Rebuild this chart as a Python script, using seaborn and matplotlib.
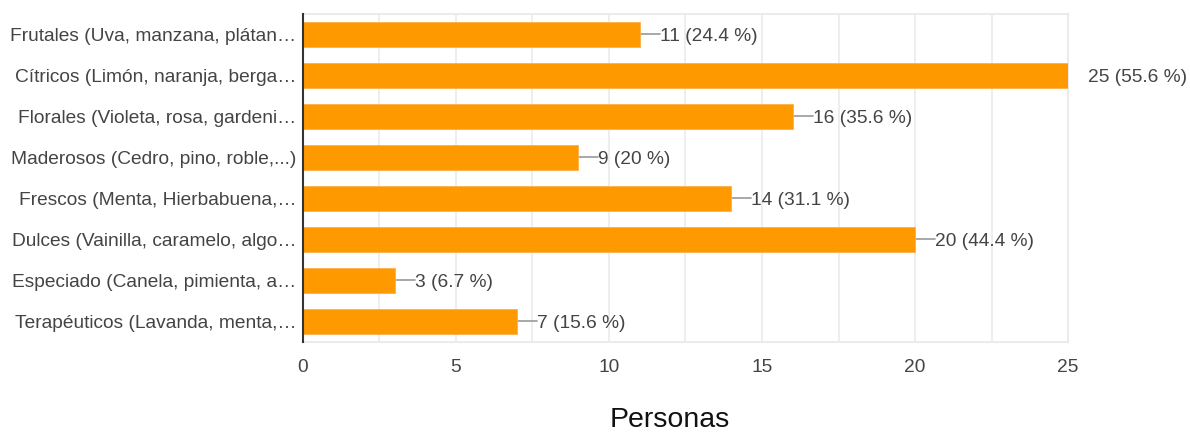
import matplotlib
matplotlib.use("Agg")
import matplotlib.pyplot as plt
import seaborn as sns
import pandas as pd
from matplotlib.ticker import MultipleLocator

categories = [
    "Frutales (Uva, manzana, plátan…",
    "Cítricos (Limón, naranja, berga…",
    "Florales (Violeta, rosa, gardeni…",
    "Maderosos (Cedro, pino, roble,...)",
    "Frescos (Menta, Hierbabuena,…",
    "Dulces (Vainilla, caramelo, algo…",
    "Especiado (Canela, pimienta, a…",
    "Terapéuticos (Lavanda, menta,…",
]
counts = [11, 25, 16, 9, 14, 20, 3, 7]
percents = ["24.4", "55.6", "35.6", "20", "31.1", "44.4", "6.7", "15.6"]
x_ticks = [0, 5, 10, 15, 20, 25]
x_label = "Personas"

sns.set_theme(style="white")
plt.rcParams["font.family"] = ["Liberation Sans", "DejaVu Sans"]

df = pd.DataFrame({"cat": categories, "n": counts})

fig = plt.figure(figsize=(11.9, 4.33), dpi=100)
ax = fig.add_axes([0.2546, 0.2102, 0.8975 - 0.2546, 0.9677 - 0.2102])

sns.barplot(data=df, y="cat", x="n", orient="h", color="#ff9900",
            saturation=1, width=0.63, ax=ax, zorder=3, edgecolor="#ffb04a",
            linewidth=0.6)

ax.set_xlim(0, 25)
ax.set_ylim(len(categories) - 0.5, -0.5)
ax.set_xticks(x_ticks)
ax.xaxis.set_minor_locator(MultipleLocator(2.5))
ax.grid(True, axis="x", which="both", color="#ebebeb", linewidth=1.2, zorder=0)
ax.grid(False, axis="y")

for side in ["top", "right", "bottom"]:
    ax.spines[side].set_color("#ebebeb")
    ax.spines[side].set_linewidth(1.5)
ax.spines["left"].set_color("#333333")
ax.spines["left"].set_linewidth(1.5)
ax.spines["left"].set_zorder(5)

ax.tick_params(axis="both", which="both", length=0, labelsize=13.8, labelcolor="#444444")
ax.tick_params(axis="y", pad=5)
ax.tick_params(axis="x", pad=12)
ax.set_ylabel("")
ax.set_xlabel("")
fig.text(670 / 1190, 1 - 420 / 433, x_label, fontsize=20.5, color="#111111",
         ha="center", va="center")

dx = 20 * 25 / 765.0
for i, (v, p) in enumerate(zip(counts, percents)):
    ax.plot([v, v + dx], [i, i], color="#999999", linewidth=1.2, zorder=2, clip_on=True)
    ax.text(v + dx, i, f"{v} ({p} %)", va="center_baseline", ha="left", fontsize=13.8,
            color="#444444", clip_on=False)

fig.savefig("out.png", dpi=100)
